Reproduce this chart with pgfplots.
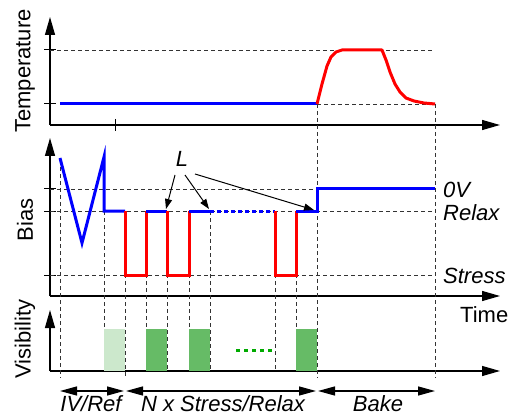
\documentclass[border=0pt]{standalone}
\usepackage{fontspec}
\setmainfont{Liberation Sans}
\usepackage{pgfplots}
\pgfplotsset{compat=1.18}
\usetikzlibrary{arrows.meta}
\definecolor{lgreen}{RGB}{204,232,204}
\definecolor{dgreen}{RGB}{102,187,102}
\definecolor{dotgreen}{RGB}{0,170,0}
\tikzset{big/.style={font=\fontsize{22}{26}\selectfont}}
\begin{document}
\begin{tikzpicture}
\begin{axis}[x=1pt, y=1pt, y dir=reverse, xmin=0, xmax=509, ymin=0, ymax=417,
  hide axis, clip=false]
% ---------- axes ----------
\pgfplotsset{ax/.style={black, line width=1.3pt, -{Triangle[length=18pt,width=10pt]}}}
\addplot[ax] coordinates {(50,125) (500,125)};
\addplot[ax] coordinates {(50,125) (50,17)};
\addplot[ax] coordinates {(50,296) (500,296)};
\addplot[ax] coordinates {(50,296) (50,138)};
\addplot[ax] coordinates {(50,371) (500,371)};
\addplot[ax] coordinates {(50,371) (50,310)};
% ticks
\pgfplotsset{tk/.style={black, line width=1pt}}
\addplot[tk] coordinates {(44,50) (56,50)};
\addplot[tk] coordinates {(44,104) (56,104)};
\addplot[tk] coordinates {(115,119) (115,131)};
\addplot[tk] coordinates {(44,189) (56,189)};
\addplot[tk] coordinates {(44,211) (56,211)};
\addplot[tk] coordinates {(44,275) (56,275)};
% ---------- dashed guides ----------
\pgfplotsset{ds/.style={black!80, line width=0.8pt, dash pattern=on 4pt off 3pt}}
\addplot[ds] coordinates {(50,50) (433,50)};
\addplot[ds] coordinates {(317,104) (435,104)};
\addplot[ds] coordinates {(50,189) (435,189)};
\addplot[ds] coordinates {(50,211) (435,211)};
\addplot[ds] coordinates {(50,275) (435,275)};
\addplot[ds] coordinates {(60,167) (60,378)};
\addplot[ds] coordinates {(104,211) (104,371)};
\addplot[ds] coordinates {(125,211) (125,378)};
\addplot[ds] coordinates {(146,211) (146,371)};
\addplot[ds] coordinates {(167,211) (167,371)};
\addplot[ds] coordinates {(189,211) (189,371)};
\addplot[ds] coordinates {(210,211) (210,371)};
\addplot[ds] coordinates {(275,211) (275,371)};
\addplot[ds] coordinates {(296,211) (296,371)};
\addplot[ds] coordinates {(317,104) (317,378)};
\addplot[ds] coordinates {(435,104) (435,378)};
% ---------- temperature ----------
\addplot[blue, line width=3pt] coordinates {(60,104) (317,104)};
\addplot[red, line width=3pt, line join=round] coordinates {(317,104) (322,84) (327,66) (331,57) (336,52) (342,50) (382,50) (386,60) (390,72) (395,84) (400,92) (406,98) (414,101) (424,103) (435,104)};
% ---------- bias ----------
\addplot[blue, line width=3pt] coordinates {(60,158) (82,243) (104,157) (104,211) (125,211)};
\addplot[red, line width=3pt] coordinates {(125,211) (125,275) (146,275) (146,211)};
\addplot[blue, line width=3pt] coordinates {(146,211) (167,211)};
\addplot[red, line width=3pt] coordinates {(167,211) (167,275) (189,275) (189,211)};
\addplot[blue, line width=3pt] coordinates {(189,211) (210,211)};
\addplot[blue, line width=3pt, dash pattern=on 4pt off 3pt] coordinates {(210,211) (275,211)};
\addplot[red, line width=3pt] coordinates {(275,211) (275,275) (296,275) (296,211)};
\addplot[blue, line width=3pt] coordinates {(296,211) (317,211) (317,189) (435,189)};
% L arrows
\pgfplotsset{la/.style={black, line width=1pt, -{Triangle[length=10pt,width=7pt]}}}
\addplot[la] coordinates {(175,175) (166,209)};
\addplot[la] coordinates {(185,175) (209,209)};
\addplot[la] coordinates {(195,174) (314,210)};
% ---------- visibility ----------
\addplot[fill=lgreen, draw=none] coordinates {(104,371) (104,329) (125,329) (125,371)} -- cycle;
\addplot[fill=dgreen, draw=none] coordinates {(146,371) (146,329) (167,329) (167,371)} -- cycle;
\addplot[fill=dgreen, draw=none] coordinates {(189,371) (189,329) (210,329) (210,371)} -- cycle;
\addplot[fill=dgreen, draw=none] coordinates {(296,371) (296,329) (317,329) (317,371)} -- cycle;
\addplot[dotgreen, line width=3pt, dash pattern=on 4pt off 4pt] coordinates {(236,350) (275,350)};
% ---------- phase arrows ----------
\pgfplotsset{pa/.style={black, line width=1.3pt, {Triangle[length=17pt,width=9pt]}-{Triangle[length=17pt,width=9pt]}}}
\addplot[pa] coordinates {(60,391) (124,391)};
\addplot[pa] coordinates {(126,391) (316,391)};
\addplot[pa] coordinates {(318,391) (435,391)};
% ---------- text ----------
\node[big, rotate=90] at (axis cs:25,71) {Temperature};
\node[big, rotate=90] at (axis cs:25,220) {Bias};
\node[big, rotate=90] at (axis cs:25,339) {Visibility};
\node[big, anchor=base west, inner sep=0pt] at (axis cs:460,322) {Time};
\node[big, anchor=base west, inner sep=0pt] at (axis cs:443,197) {\itshape 0V};
\node[big, anchor=base west, inner sep=0pt] at (axis cs:443,220) {\itshape Relax};
\node[big, anchor=base west, inner sep=0pt] at (axis cs:443,283) {\itshape Stress};
\node[big, anchor=base, inner sep=0pt] at (axis cs:182,167) {\itshape L};
\node[big, anchor=base, inner sep=0pt] at (axis cs:91,411) {\itshape IV/Ref};
\node[big, anchor=base, inner sep=0pt] at (axis cs:223,411) {\itshape N x Stress/Relax};
\node[big, anchor=base, inner sep=0pt] at (axis cs:378,411) {\itshape Bake};
\end{axis}
\pgfresetboundingbox
\path (0,0) rectangle (509pt,417pt);
\end{tikzpicture}
\end{document}
